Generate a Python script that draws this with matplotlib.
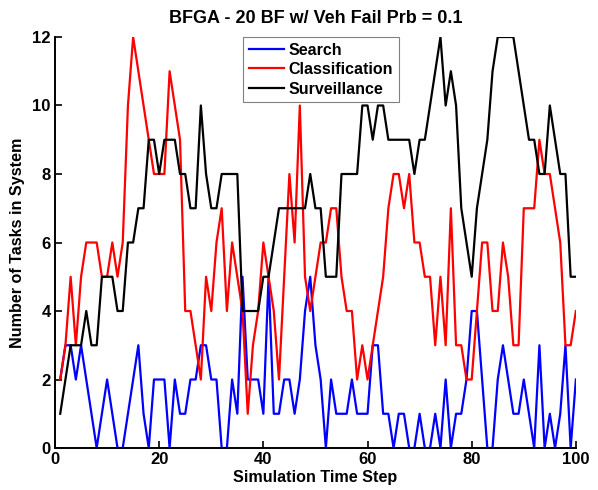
import matplotlib
matplotlib.use("Agg")
import matplotlib.pyplot as plt

plt.rcParams['font.family'] = ['Liberation Sans', 'DejaVu Sans']
plt.rcParams['font.weight'] = 'bold'

steps = list(range(1, 101))

search = [2, 3, 3, 2, 3, 2, 1, 0, 1, 2,
          1, 0, 0, 1, 2, 3, 1, 0, 2, 2,
          2, 0, 2, 1, 1, 2, 2, 3, 3, 2,
          2, 0, 0, 2, 1, 5, 2, 2, 2, 1,
          5, 1, 1, 2, 2, 1, 2, 4, 5, 3,
          2, 0, 2, 1, 1, 1, 2, 1, 1, 1,
          3, 3, 1, 1, 0, 1, 1, 0, 0, 1,
          0, 0, 1, 0, 2, 0, 1, 1, 2, 4,
          4, 2, 0, 0, 2, 3, 2, 1, 1, 2,
          1, 0, 3, 0, 1, 0, 1, 3, 0, 2]

classification = [2, 3, 5, 3, 5, 6, 6, 6, 5, 5,
                  6, 5, 6, 10, 12, 11, 10, 9, 8, 8,
                  8, 11, 10, 9, 4, 4, 3, 2, 5, 4,
                  6, 7, 4, 6, 5, 4, 1, 3, 4, 6,
                  5, 4, 2, 5, 8, 6, 10, 5, 4, 5,
                  6, 6, 7, 7, 5, 4, 4, 2, 3, 2,
                  3, 4, 5, 7, 8, 8, 7, 8, 6, 6,
                  5, 5, 3, 5, 3, 7, 3, 3, 2, 2,
                  4, 6, 6, 4, 4, 6, 5, 3, 3, 7,
                  7, 7, 9, 8, 8, 7, 6, 3, 3, 4]

surveillance = [1, 2, 3, 3, 3, 4, 3, 3, 5, 5,
                5, 4, 4, 6, 6, 7, 7, 9, 9, 8,
                9, 9, 9, 8, 8, 7, 7, 10, 8, 7,
                7, 8, 8, 8, 8, 4, 4, 4, 4, 5,
                5, 6, 7, 7, 7, 7, 7, 7, 8, 7,
                7, 5, 5, 5, 8, 8, 8, 8, 10, 10,
                9, 10, 10, 9, 9, 9, 9, 9, 8, 9,
                9, 10, 11, 12, 10, 11, 10, 7, 6, 5,
                7, 8, 9, 11, 12, 12, 12, 12, 11, 10,
                9, 9, 8, 8, 10, 9, 8, 8, 5, 5]

series_names = ["Search", "Classification", "Surveillance"]
series_colors = ["#0000ff", "#ff0000", "#000000"]

xticks = [0, 20, 40, 60, 80, 100]
yticks = [0, 2, 4, 6, 8, 10, 12]

fig = plt.figure(figsize=(5.98, 4.90), dpi=100)
ax = fig.add_axes([0.092, 0.0857, 0.871, 0.8388])

for vals, name, col in zip([search, classification, surveillance], series_names, series_colors):
    ax.plot(steps, vals, color=col, linewidth=1.6, label=name)

ax.set_xlim(0, 100)
ax.set_ylim(0, 12)
ax.set_xticks(xticks)
ax.set_yticks(yticks)
ax.tick_params(direction='in', length=5, width=1.2, labelsize=12, pad=3)
for lbl in ax.get_xticklabels() + ax.get_yticklabels():
    lbl.set_fontweight('bold')
ax.spines['top'].set_visible(False)
ax.spines['right'].set_visible(False)
ax.spines['left'].set_linewidth(1.4)
ax.spines['bottom'].set_linewidth(1.4)

ax.set_title("BFGA - 20 BF w/ Veh Fail Prb = 0.1", fontsize=13, fontweight='bold', pad=10)
ax.set_xlabel("Simulation Time Step", fontsize=11.6, fontweight='bold', labelpad=2)
ax.set_ylabel("Number of Tasks in System", fontsize=11.6, fontweight='bold', labelpad=5)

leg = ax.legend(loc='upper left', bbox_to_anchor=(0.361, 1.0), borderaxespad=0,
                fancybox=False, framealpha=1, edgecolor='#808080',
                prop={'size': 11.5, 'weight': 'bold'}, handlelength=2.2,
                handletextpad=0.3, labelspacing=0.28, borderpad=0.35)
leg.get_frame().set_linewidth(0.8)

fig.savefig("out.png", dpi=100)
